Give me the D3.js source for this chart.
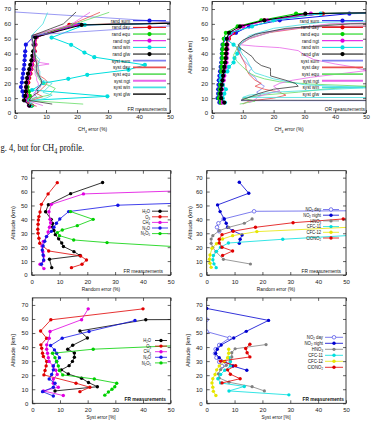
<!DOCTYPE html>
<html><head><meta charset="utf-8">
<script src="https://cdn.jsdelivr.net/npm/d3@7"></script>
<style>
body{margin:0;background:#fff;}
svg{display:block;background:#fff;}
</style></head><body>
<svg id="c" width="372" height="421"></svg>
<script>
// ---------- tick values ----------
const xTicks = [0,10,20,30,40,50];
const yTicks = [0,10,20,30,40,50,60,70];

// ---------- Panel 1: CH4 error, FR measurements  ([error %, altitude km]) ----------
const fr_rand_sum = [[5.3,5],[3.3,8.5],[2.8,11.5],[2.4,14.5],[1.9,17.5],[2.2,20.5],[2.4,23.5],[2.6,26.5],[2.8,29.5],[3.0,32.5],[3.1,35.5],[3.2,38.5],[3.3,41.5],[3.5,46],[6.0,51.5],[20.5,59.3],[254,68]];
const fr_rand_day = [[5.0,5],[3.8,8.5],[4.0,11.5],[4.0,14.5],[4.0,17.5],[4.3,20.5],[4.6,23.5],[5.0,26.5],[5.3,29.5],[5.6,32.5],[6.0,35.5],[6.2,38.5],[6.4,41.5],[6.6,46],[7.0,51],[17.5,59.3],[240,68]];
const fr_rand_equ = [[5.5,5],[4.2,8.5],[4.8,11.5],[4.5,14.5],[4.0,17.5],[3.8,20.5],[4.2,23.5],[4.6,26.5],[4.9,29.5],[5.2,32.5],[5.5,35.5],[5.8,38.5],[6.0,41.5],[6.3,46],[6.8,51],[18.5,59.3],[245,68]];
const fr_rand_ngt = [[4.5,5],[3.5,8.5],[3.8,11.5],[3.6,14.5],[3.5,17.5],[3.9,20.5],[4.3,23.5],[4.7,26.5],[5.0,29.5],[5.4,32.5],[5.7,35.5],[6.0,38.5],[6.2,41.5],[6.4,46],[6.9,51],[19.5,59.3],[248,68]];
const fr_rand_win = [[5.0,5],[4.6,8.5],[29.8,11.2],[5.5,15.5],[9.1,20.1],[17.2,23],[23.3,25.7],[36.6,29.1],[41.9,32.4],[25.6,37.6],[22.4,40.7],[18.1,45.9],[11.8,50.8],[22.5,59.3],[255,68]];
const fr_rand_glw = [[4.6,5],[2.9,8.5],[3.3,11.5],[3.5,14.5],[3.6,17.5],[3.6,20.5],[3.9,23.5],[4.2,26.5],[4.6,29.5],[4.9,32.5],[5.3,35.5],[5.6,38.5],[5.9,41.5],[6.0,46],[6.6,51],[21.5,59.3],[250,68]];
const fr_syst_sum = [[6.5,4.5],[4.5,7],[5.5,9],[7,11],[6,13],[7,15],[8,17],[8.5,19],[8.8,21],[8.2,23],[7.5,25],[7,27],[7,29],[6.8,31],[7,33],[6.5,35],[6.5,37],[6.2,39],[6,41],[6,43],[6,45],[5.8,47],[5.5,49],[5.3,51],[5.5,52.5],[60,60],[0,68]];
const fr_syst_day = [[7,4.5],[4,7],[6,9],[9,11],[7,13],[8,15],[9,17],[10,19],[10.5,21],[9.5,23],[8,25],[7.5,27],[7.5,29],[7.5,31],[7,33],[7,35],[6.5,37],[6.5,39],[6.5,41],[6.3,43],[6,45],[6,47],[5.5,49],[5.5,51],[5.8,52.5],[17,58.5],[27.4,67.8]];
const fr_syst_equ = [[22,6],[4,8.5],[6,10],[11,12],[12,14],[13,16.5],[11,18.5],[9,20],[8,22],[7.5,24],[7,26],[6.5,28],[6.5,30],[6.5,32],[8,34],[7,36],[6.5,38],[6.3,40],[6,42],[6,44],[6,46],[5.8,48],[5.5,50],[5.5,52],[18,59],[30.4,67.8]];
const fr_syst_ngt = [[9,5],[4.5,8],[5,10],[6.5,12],[6.5,14],[7,16],[7.5,18],[7.5,20],[7,22],[7,24],[6.5,26],[6.5,28],[6,30],[6.5,31.5],[11,33],[8,34],[6.5,36],[6,38],[6,40],[6,42],[6,44],[5.8,46],[5.5,48],[5.3,50],[5.5,52],[18,59.5],[24.2,67.8]];
const fr_syst_win = [[4.5,5],[5.5,8],[10,10],[12,12],[9,14],[10,16],[11,18],[12,20],[9,22],[8,24],[8,26],[8,28],[7.5,30],[7.5,32],[7.5,34],[8,36],[7,38],[6.5,40],[6.3,42],[6,44],[6,46],[5.8,48],[5.5,50],[5.3,52],[9,60],[10.5,67.6]];
const fr_syst_glw = [[12,6],[4.5,8.5],[5,10],[6,12],[7.5,14],[7,16],[8,18],[8.5,20],[8.5,22],[8,24],[7.5,26],[7,28],[7,30],[7,32],[7,34],[6.5,36],[6.5,38],[6.3,40],[6,42],[6,44],[6,46],[5.8,48],[5.5,50],[5.5,52],[15.6,60],[19.7,68]];

// ---------- Panel 2: CH4 error, OR measurements ----------
const or_rand_sum = [[2.4,7],[1.8,10],[2.0,13],[2.0,16],[2.1,19],[2.2,22],[2.4,25],[2.6,28],[2.8,31],[3.0,34],[3.1,37],[3.2,40],[3.3,43],[3.4,46],[4.5,50],[7.8,54],[12,58.3],[22,62.4],[44.6,66.9],[150,70]];
const or_rand_day = [[3.0,7],[2.6,10],[2.8,13],[3.0,16],[3.1,19],[3.3,22],[3.5,25],[3.8,28],[4.0,31],[4.2,34],[4.4,37],[4.5,40],[4.6,43],[4.8,46],[5.5,50],[7,54],[10,58.3],[17,62.4],[36,66.9],[150,69.5]];
const or_rand_equ = [[2.8,7],[2.2,10],[2.4,13],[2.5,16],[2.6,19],[2.8,22],[2.9,25],[3.0,28],[3.1,31],[3.2,34],[3.3,37],[3.3,40],[3.4,43],[3.6,46],[3.8,50],[4.5,54],[8.3,58.3],[16,62.4],[27.3,66.9],[150,70]];
const or_rand_ngt = [[3.5,7],[3.0,10],[3.1,13],[3.3,16],[3.5,19],[3.8,22],[4.0,25],[4.2,28],[4.5,31],[4.7,34],[4.8,37],[4.9,40],[5.0,43],[5.0,46],[5.2,50],[6.5,54],[10,58.3],[18,62.4],[32.1,66.9],[150,70]];
const or_rand_win = [[4.2,7],[3.5,10],[4.0,13],[4.5,16],[3.5,19],[2.8,22],[2.9,25],[5.0,28],[5.5,31],[7.0,34],[7.3,37],[8.2,40],[8.8,43],[7.0,46],[4.5,50],[6.0,54],[13,58.3],[20,62.4],[35.3,66.9],[150,70]];
const or_rand_glw = [[4.0,7],[3.0,10],[2.8,13],[3.0,16],[3.2,19],[3.4,22],[3.6,25],[3.8,28],[4.0,31],[4.3,34],[4.5,37],[4.6,40],[4.7,43],[4.8,46],[4.8,50],[5.5,54],[9.1,58.3],[17,62.4],[30.3,66.9],[150,70]];
const or_syst_sum = [[200,8.3],[9.5,8.3],[10,10],[16,12],[14.5,14],[16,16],[17,18],[15.5,20],[14.5,22],[14,24],[12.5,26],[12,28],[13,30],[12,32],[11,34],[10,36],[9.5,38],[9,40],[9,42],[8.5,44],[9,46],[11,50],[16,54],[30,58],[200,61.5]];
const or_syst_day = [[10,6],[12,8],[20,10],[24,12],[22,14],[17,16],[14,18],[16,20],[14,22],[13,24],[12,26],[11.5,28],[11,30],[11,32],[10.5,34],[10,36],[9.5,38],[9,40],[8.5,42],[8,44],[9,46],[12,50],[18,54],[32,58],[200,63]];
const or_syst_equ = [[9,6],[14,8],[10,10],[16,12],[28,14],[36,16],[50,18],[32,19.5],[22,21],[17,23],[14,25],[12,27],[11,29],[10,31],[9,33],[8,35],[7.5,37],[7,39],[7.5,41],[8,43],[8.5,45],[9,46.5],[13,51],[22,56],[40,60],[200,66]];
const or_syst_ngt = [[12,7],[14,9],[15,11],[18,13],[22,15],[20,18],[22,20],[26,22],[32,24],[40,26],[50,28.5],[46,31],[40,33],[33,36],[30,39],[28,42],[22,44],[14,45],[9,46],[12,50],[20,55],[38,60],[200,68]];
const or_syst_win = [[200,10],[10,10.5],[12,12],[20,14],[40,16],[50,17],[40,18],[30,19],[25,21],[20,23],[17,25],[14,27],[13,29],[12.5,31],[12,33],[11.5,35],[11,37],[10,39],[9.5,41],[9,43],[9,45],[9.5,47],[12,52],[20,57],[35,61],[200,70]];
const or_syst_glw = [[200,8],[9.5,8.6],[12,10.5],[15,13],[20,16],[28,18],[27,20],[24,22],[19,25],[19,28],[19,30],[16,32],[14,35],[13,38],[11,41],[9,44],[8.5,46],[10,49],[14,53],[24,57],[45,60],[200,62]];

// ---------- Panel 3: Random error, FR (H2O, O3, CH4, N2O, N2O5) ----------
const rnd_h2o  = [[7.2,5.3],[6.4,11.3],[17.4,14],[15.2,16.8],[11.4,20.5],[10.8,23],[9.7,26],[8.5,29],[8,32],[7.5,34.5],[7.5,37],[7,40],[5,45.5],[6,50.5],[14,58.5],[25.5,66.5]];
const rnd_o3   = [[14.3,5.3],[18.1,7.7],[19.7,10.8],[17.6,13.7],[6.1,17.3],[2.9,22.8],[2.6,26.4],[2.3,30],[2.2,32.9],[2.3,36.5],[2.4,39.6],[2.6,42],[3,45.3],[3.5,50.8],[5.9,58.3],[9.2,66.4]];
const rnd_ch4  = [[4.4,4.6],[3,7.7],[4.3,10.3],[4.3,13.7],[4,16.8],[3.7,20.9],[4.2,24.2],[5.4,27.6],[5.9,30.9],[6.4,34.3],[6.8,37.6],[6.6,40],[6.2,45.5],[7.1,50.8],[18.6,58.3],[147,66.5]];
const rnd_n2o  = [[3.5,7.7],[4.3,10.8],[4.1,14.4],[3.8,18],[4.1,20.9],[4.7,24.2],[5.3,27.6],[7.1,31.4],[8,34.3],[8.9,37.2],[10.1,40.3],[13.3,45.6],[31,50.2],[150,58]];
const rnd_n2o5 = [[80,17],[27.1,23.3],[15.1,25.2],[10,28.3],[9.2,30.5],[11,32.4],[16.4,35.5],[22.1,40],[14,45.6]];

// ---------- Panel 4: Random error, FR (NO2, HNO3, CFCs, ClONO2) ----------
const rnd_no2day   = [[4.5,31.5],[3.7,34.3],[4.2,37.2],[6.1,40.3],[17,45.8],[150,47.3]];
const rnd_no2night = [[11.7,22.8],[12,25.7],[12.7,28.8],[9.3,31.9],[7.5,34.3],[7,37.2],[6.3,40.3],[4.8,45.6],[3.9,50.4],[15.1,58.8],[11.7,66.7]];
const rnd_hno3     = [[15.7,7.9],[6,11.3],[3.3,16.8],[2.2,19.8],[1.6,22.8],[1.6,25.9],[2.2,28.3],[4.5,31.9],[7.9,34.3],[13.5,37.2],[16.3,40.3]];
const rnd_cfc11    = [[3.4,5.3],[2.6,8],[2.2,11],[2.4,14],[3.5,17],[5,20],[7.8,23],[27.3,25.7],[100,34]];
const rnd_cfc12    = [[1.6,5.5],[1.2,8.4],[1,11.3],[1.2,14.4],[1.9,19.2],[3.5,22.5],[5.7,25.9],[9.3,28.3],[18,31.2],[100,39]];
const rnd_clono2   = [[5.7,14],[9.3,17.3],[5.5,20],[4.5,23],[4.5,25.7],[5.5,29],[9.5,31.5],[17.5,34.3],[31,37.6],[49,40.3],[100,44]];

// ---------- Panel 5: Syst error, FR (H2O, O3, CH4, N2O, N2O5) ----------
const sys_h2o  = [[8.2,8.8],[23.5,11.8],[20.3,14.8],[17.8,17.8],[13,20.8],[10.5,23.8],[13.3,26.8],[14.5,29.8],[15.2,32.8],[15.2,35.8],[12.8,38.5],[14.6,41.3],[19.9,46.5],[17.2,51.5],[41,59.5],[250,61]];
const sys_o3   = [[17.2,8.3],[20.8,11.4],[15.8,14.3],[4.2,20.2],[4.6,23.3],[5,26.6],[5.2,29.7],[4,33.3],[3.7,35.6],[3.4,39.2],[3.1,41.6],[5.2,46.3],[3,51.5],[6.7,59.4],[40,67.2]];
const sys_ch4  = [[11.2,5.5],[4,8.8],[9.4,11.4],[7.6,14.3],[7.6,17.3],[9,20.5],[8.5,23.5],[7.5,26.5],[6.1,29.7],[5.8,32.5],[5.5,35.6],[5.2,38.5],[5.2,41.6],[6.1,46.3],[6.4,51.1],[17.8,59.5],[20.2,67.2]];
const sys_n2o  = [[7.6,5.2],[3.7,8.3],[7.6,11.4],[8.2,14.3],[6.1,17.3],[7,20.5],[7.6,23.8],[7.6,26.6],[8.8,29.7],[9.8,32.5],[8.8,35.6],[8,38],[6.6,41.1],[10.8,46.3],[20.5,51.1],[37.1,58.9]];
const sys_n2o5 = [[26.2,5.8],[27.5,8],[28.8,10],[29.8,11.8],[30.5,14.3],[22.4,17.3],[11,20.2],[9.8,23.3],[9.4,26.6],[8.8,29.7],[8.2,32.5],[7.3,35.6],[22,38.5],[100,45]];

// ---------- Panel 6: Syst error, FR (NO2, HNO3, CFCs, ClONO2) ----------
const sys_no2day   = [[5.5,26.5],[4.5,29.5],[3.5,32.5],[3,35.5],[3.2,38.5],[4.5,41.5],[8.2,46.5],[0,51],[0,59.5]];
const sys_no2night = [[14.4,23.5],[9.5,26.5],[6.5,29.5],[4.5,32.5],[3.2,35.5],[3.8,38.5],[5.2,41.5],[9.7,46.5],[14.2,51.2],[22.2,59],[0,67.5]];
const sys_hno3     = [[20.7,8.8],[16.3,11.8],[8,15],[4.5,18],[4.2,21],[5,24],[7,27],[8.5,30],[9,33],[9,36],[10.2,38.8],[21.3,41.8]];
const sys_cfc11    = [[29.5,6],[8,8.8],[13.5,12],[5,14.5],[4,17.5],[5,20.5],[6.5,23.5],[8.5,26.5],[8.5,29.5],[8,32.5]];
const sys_cfc12    = [[3.3,5.5],[2.4,8.5],[2.2,11.5],[1.9,14.5],[2.2,17.5],[3,20.5],[3.6,23.8],[4.5,26.6],[6.3,29.7],[7.5,32.5],[7.9,35.6],[7.9,38.5]];
const sys_clono2   = [[5.5,14.5],[12,17.5],[8.5,20.7],[7.5,23.8],[10.4,26.8],[5,30],[15.5,33],[14.5,36],[14,39],[15.5,42]];

// ---------- labels ----------
const topLegend = ['rand sum','rand day','rand equ','rand ngt','rand win','rand glw','syst sum','syst day','syst equ','syst ngt','syst win','syst glw'];
const gasLegendA = ['H_2O','O_3','CH_4','N_2O','N_2O_5'];
const gasLegendB = ['NO_2 day','NO_2 night','HNO_3','CFC-11','CFC-12','ClONO_2'];

// =====================================================================
const FONT = '"Liberation Sans", Arial, Helvetica, sans-serif';
const SX = 0.8;
const svg = d3.select('#c');
const defs = svg.append('defs');

function parse(s){ return s.split(/_(\w)/).map((p,i)=>[p, i%2===1]).filter(d=>d[0]!==''); }

function rich(g, x, y, segs, o={}) {
  const size = o.size || 6;
  const sx = o.sx ?? SX;
  const subK = o.subK || 0.72, subD = o.subD || 0.3;
  const tr = `translate(${x},${y})` + (o.rotate ? ` rotate(-90) scale(1,${sx})` : ` scale(${sx},1)`);
  const t = g.append('text').attr('transform', tr).attr('font-size', size)
    .attr('text-anchor', o.anchor || 'start').attr('font-family', o.family || FONT)
    .attr('font-weight', o.weight || 'normal').attr('fill', '#111');
  let shift = 0;
  segs.forEach(([s, sub]) => {
    const target = sub ? size * subD : 0;
    t.append('tspan').attr('dy', target - shift).attr('font-size', sub ? size * subK : size).text(s);
    shift = target;
  });
  return t;
}

const C = {blue:'#1212e6', red:'#e00000', green:'#00d000', mag:'#e000e0', cyan:'#00dede', black:'#000',
  ssum:'#8080f0', sday:'#e85050', sequ:'#66dd66', sngt:'#e866e8', swin:'#44e0e0', sglw:'#3a3a3a',
  no2d:'#5c5cea', no2n:'#0000d0', gray:'#808080', yellow:'#e6e600'};

function topSeries(d) {
  const cols = [C.blue,C.red,C.green,C.mag,C.cyan,C.black,C.ssum,C.sday,C.sequ,C.sngt,C.swin,C.sglw];
  return d.map((data,i)=> i<6 ? {label:topLegend[i], data, color:cols[i], w:1, r:2.1}
                               : {label:topLegend[i], data, color:cols[i], w:0.8, lw:1.8});
}

const panels = [
  {id:1, xr:[15,170], yr:[113,1.6], xpad:2.2,
   series: topSeries([fr_rand_sum,fr_rand_day,fr_rand_equ,fr_rand_ngt,fr_rand_win,fr_rand_glw,fr_syst_sum,fr_syst_day,fr_syst_equ,fr_syst_ngt,fr_syst_win,fr_syst_glw]),
   leg:{tx:130, l0:133, l1:166, y0:20.7, dy:6.67, size:5.8},
   note:{x:167, y:111, text:'FR measurements'},
   xlab:{x:92.5, y:131, text:'CH_4 error (%)'}, ylab:null},
  {id:2, xr:[212,366], yr:[113,1.6], xpad:2.2,
   series: topSeries([or_rand_sum,or_rand_day,or_rand_equ,or_rand_ngt,or_rand_win,or_rand_glw,or_syst_sum,or_syst_day,or_syst_equ,or_syst_ngt,or_syst_win,or_syst_glw]),
   leg:{tx:319, l0:322, l1:363, y0:20.7, dy:6.67, size:5.8},
   note:{x:365, y:111, text:'OR measurements'},
   xlab:{x:289, y:131, text:'CH_4 error (%)'}, ylab:{x:192, y:57.3, text:'Altitude (km)'}},
  {id:3, xr:[31.7,170.7], yr:[275,170.7], xpad:4.5,
   series:[
     {label:gasLegendA[0], data:rnd_h2o, color:C.black, w:0.8, r:1.7},
     {label:gasLegendA[1], data:rnd_o3, color:C.red, w:0.8, r:1.7},
     {label:gasLegendA[2], data:rnd_ch4, color:C.mag, w:0.8, r:1.7},
     {label:gasLegendA[3], data:rnd_n2o, color:C.blue, w:0.8, r:1.7},
     {label:gasLegendA[4], data:rnd_n2o5, color:C.green, w:0.8, r:1.7}],
   leg:{tx:150, l0:152, l1:168, y0:211.2, dy:5.6, size:5.2},
   note:{x:163, y:273, text:'FR measurements'},
   xlab:{x:101, y:291, text:'Random error (%)'}, ylab:{x:15, y:222.9, text:'Altitude (km)'}},
  {id:4, xr:[206.7,346], yr:[275,170.7], xpad:4.5,
   series:[
     {label:gasLegendB[0], data:rnd_no2day, color:C.no2d, w:0.8, r:1.8, open:true},
     {label:gasLegendB[1], data:rnd_no2night, color:C.no2n, w:0.8, r:1.7},
     {label:gasLegendB[2], data:rnd_hno3, color:C.gray, w:0.8, r:1.6},
     {label:gasLegendB[3], data:rnd_cfc11, color:C.cyan, w:0.8, r:1.7},
     {label:gasLegendB[4], data:rnd_cfc12, color:C.yellow, w:0.8, r:1.7},
     {label:gasLegendB[5], data:rnd_clono2, color:C.red, w:0.8, r:1.7}],
   leg:{tx:321, l0:323, l1:339, y0:209.5, dy:5.7, size:5.2},
   note:{x:341, y:273, text:'FR measurements'},
   xlab:{x:276, y:291, text:'Random error (%)'}, ylab:{x:192, y:222.9, text:'Altitude (km)'}},
  {id:5, xr:[32.3,170.7], yr:[403.3,297.9], xpad:4.5,
   series:[
     {label:gasLegendA[0], data:sys_h2o, color:C.black, w:0.8, r:1.7},
     {label:gasLegendA[1], data:sys_o3, color:C.red, w:0.8, r:1.7},
     {label:gasLegendA[2], data:sys_ch4, color:C.mag, w:0.8, r:1.7},
     {label:gasLegendA[3], data:sys_n2o, color:C.blue, w:0.8, r:1.7},
     {label:gasLegendA[4], data:sys_n2o5, color:C.green, w:0.8, r:1.7}],
   leg:{tx:151, l0:155, l1:167, y0:340.5, dy:5.6, size:5.2},
   note:{x:166, y:401, text:'FR measurements', bold:true},
   xlab:{x:101, y:419, text:'Syst error [%]'}, ylab:{x:15, y:350.6, text:'Altitude [km]'}},
  {id:6, xr:[206.7,346], yr:[403.3,297.9], xpad:4.5,
   series:[
     {label:gasLegendB[0], data:sys_no2day, color:C.no2d, w:0.8, r:1.8, open:true},
     {label:gasLegendB[1], data:sys_no2night, color:C.no2n, w:0.8, r:1.7},
     {label:gasLegendB[2], data:sys_hno3, color:C.gray, w:0.8, r:1.6},
     {label:gasLegendB[3], data:sys_cfc11, color:C.cyan, w:0.8, r:1.7},
     {label:gasLegendB[4], data:sys_cfc12, color:C.yellow, w:0.8, r:1.7},
     {label:gasLegendB[5], data:sys_clono2, color:C.red, w:0.8, r:1.7}],
   leg:{tx:323, l0:325, l1:343, y0:337.3, dy:6, size:5.4},
   note:{x:344, y:401, text:'FR measurements', bold:true},
   xlab:{x:276, y:419, text:'Syst error [%]'}, ylab:{x:190, y:350.6, text:'Altitude [km]'}}
];

function drawPanel(P) {
  const x = d3.scaleLinear().domain([0,50]).range(P.xr);
  const y = d3.scaleLinear().domain([0,75]).range(P.yr);
  const g = svg.append('g');
  const cid = 'clip' + P.id;
  defs.append('clipPath').attr('id', cid).append('rect')
    .attr('x', P.xr[0]).attr('y', P.yr[1]).attr('width', P.xr[1]-P.xr[0]).attr('height', P.yr[0]-P.yr[1]);
  const plot = g.append('g').attr('clip-path', `url(#${cid})`);
  const line = d3.line().x(d => x(d[0])).y(d => y(d[1]));
  P.series.forEach(s => {
    plot.append('path').attr('d', line(s.data)).attr('fill','none').attr('stroke', s.color)
      .attr('stroke-width', s.w).attr('stroke-linejoin','round');
    if (s.r) plot.append('g').selectAll('circle').data(s.data).join('circle')
      .attr('cx', d => x(d[0])).attr('cy', d => y(d[1])).attr('r', s.r)
      .attr('fill', s.open ? '#fff' : s.color).attr('stroke', s.color).attr('stroke-width', s.open ? 0.8 : 0);
  });
  // axes (ticks inward, mirrored)
  const ax = g.append('g').attr('transform', `translate(0,${P.yr[0]})`)
    .call(d3.axisBottom(x).tickValues(xTicks).tickSize(-3).tickPadding(P.xpad));
  const ay = g.append('g').attr('transform', `translate(${P.xr[0]},0)`)
    .call(d3.axisLeft(y).tickValues(yTicks).tickSize(-3).tickPadding(4));
  const at = g.append('g').attr('transform', `translate(0,${P.yr[1]})`)
    .call(d3.axisTop(x).tickValues(xTicks).tickSize(-3).tickFormat(''));
  const ar = g.append('g').attr('transform', `translate(${P.xr[1]},0)`)
    .call(d3.axisRight(y).tickValues(yTicks).tickSize(-3).tickFormat(''));
  [ax, ay, at, ar].forEach(a => {
    a.select('.domain').remove();
    a.attr('font-size', 6).attr('font-family', FONT).attr('color', '#222');
    a.selectAll('line').attr('stroke-width', 0.7);
  });
  g.append('rect').attr('x', P.xr[0]).attr('y', P.yr[1]).attr('width', P.xr[1]-P.xr[0])
    .attr('height', P.yr[0]-P.yr[1]).attr('fill','none').attr('stroke','#111').attr('stroke-width', 0.8);
  // legend
  P.series.forEach((s, i) => {
    const ly = P.leg.y0 + i * P.leg.dy;
    rich(g, P.leg.tx, ly + P.leg.size * 0.33, parse(s.label), {anchor:'end', size:P.leg.size, subK:0.65, subD:0.22});
    g.append('line').attr('x1', P.leg.l0).attr('x2', P.leg.l1).attr('y1', ly).attr('y2', ly)
      .attr('stroke', s.color).attr('stroke-width', s.r ? s.w : s.lw);
    if (s.r) g.append('circle').attr('cx', (P.leg.l0 + P.leg.l1) / 2).attr('cy', ly).attr('r', s.r)
      .attr('fill', s.open ? '#fff' : s.color).attr('stroke', s.color).attr('stroke-width', s.open ? 0.8 : 0);
  });
  rich(g, P.note.x, P.note.y, [[P.note.text, false]], {anchor:'end', size:6, weight: P.note.bold ? 'bold' : 'normal'});
  rich(g, P.xlab.x, P.xlab.y, parse(P.xlab.text), {anchor:'middle', size:6});
  if (P.ylab) rich(g, P.ylab.x, P.ylab.y, parse(P.ylab.text), {anchor:'middle', size:6, rotate:true});
}

panels.forEach(drawPanel);

// caption fragment
rich(svg, 0.5, 150.5, parse('g. 4, but for CH_4 profile.'), {size:10, sx:0.85, family:'"Liberation Serif", "Times New Roman", serif'});
</script>
</body></html>
